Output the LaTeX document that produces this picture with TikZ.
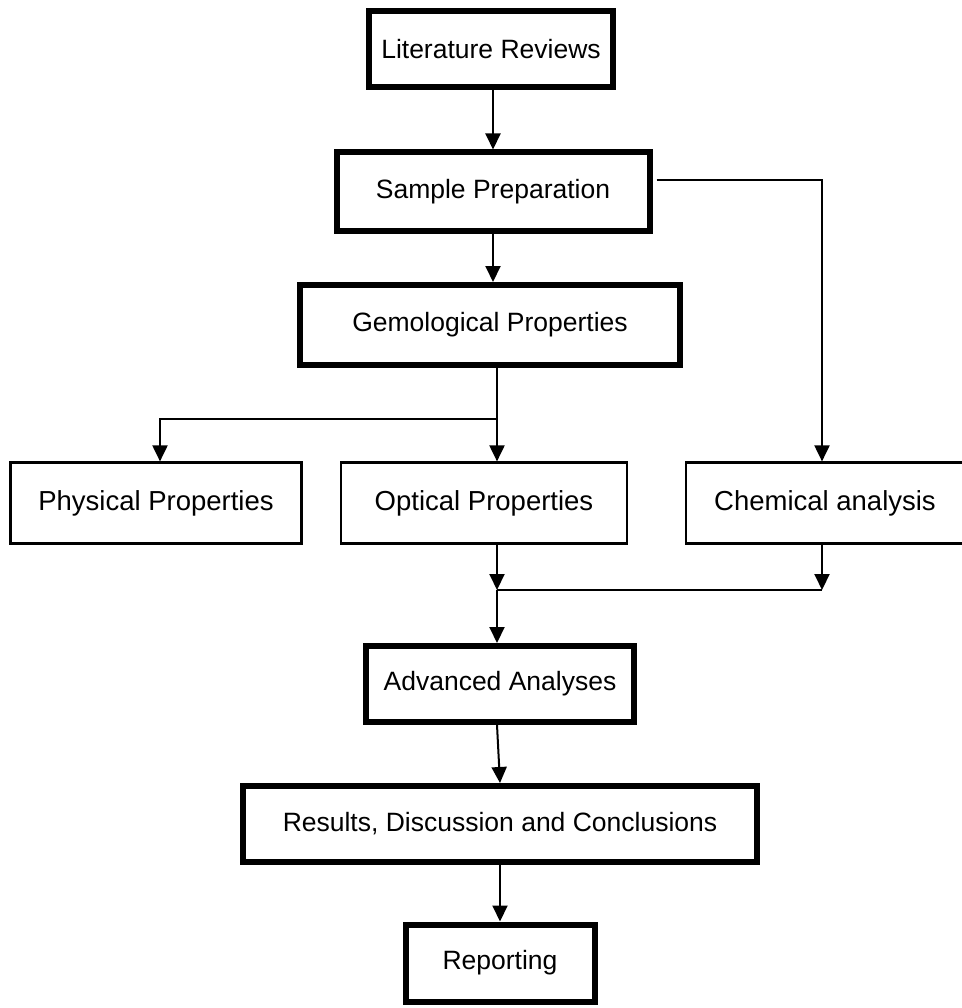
\documentclass[tikz,border=0pt]{standalone}
\usepackage{fontspec}
\setmainfont{Liberation Sans}
\usetikzlibrary{positioning,arrows.meta}
\tikzset{
  stage/.style={rectangle, fill=white, draw=black, line width=6pt, inner sep=0pt, font=\fontsize{26.5}{30}\selectfont},
  test/.style={rectangle, fill=white, draw=black, line width=2.2pt, inner sep=0pt, font=\fontsize{27.5}{31}\selectfont},
  arr/.style={draw=black, line width=2pt, -{Triangle[length=16pt,width=15pt]}},
  ln/.style={draw=black, line width=1.3pt}
}

\begin{document}
\begin{tikzpicture}[x=1pt, y=-1pt]
  \useasboundingbox (0,0) rectangle (961,1008);
  \node[stage, minimum width=244pt, minimum height=76pt] (lit) at (491,49) {Literature Reviews};
  \node[stage, minimum width=313pt, minimum height=79pt] (sp) at (493,192) {Sample Preparation};
  \node[stage, minimum width=380pt, minimum height=80pt] (gp) at (490,325) {Gemological Properties};
  \node[test, minimum width=291pt, minimum height=81pt] (phy) at (156,503) {Physical Properties};
  \node[test, minimum width=286pt, minimum height=81pt] (opt) at (484,503) {Optical Properties};
  \node[test, minimum width=278pt, minimum height=81pt] (chem) at (825,503) {Chemical analysis};
  \node[stage, minimum width=268pt, minimum height=76pt] (aa) at (500,684) {Advanced Analyses};
  \node[stage, minimum width=514pt, minimum height=76pt] (res) at (500,824) {Results, Discussion and Conclusions};
  \node[stage, minimum width=189pt, minimum height=77pt] (rep) at (500,963) {Reporting};
  \coordinate (split) at (497,419);
  \coordinate (merge) at (497,590);
  \coordinate (cdrop) at (822,590);
  \draw[arr] (lit.south -| 493,0) -- (sp.north -| 493,0);
  \draw[arr] (sp.south -| 493,0) -- (gp.north -| 493,0);
  \draw[arr] ([xshift=4pt,yshift=12pt]sp.east) -| (chem.north -| cdrop);
  \draw[ln] (gp.south -| split) -- (split);
  \draw[arr] (split) -- (split |- opt.north);
  \draw[arr] (split) -| (phy.north -| 160,0);
  \draw[arr] (opt.south -| merge) -- (merge);
  \draw[arr] (chem.south -| cdrop) -- (cdrop);
  \draw[ln] (merge) -- (cdrop);
  \draw[arr] (merge) -- (aa.north -| merge);
  \draw[arr] (aa.south -| merge) -- (res.north);
  \draw[arr] (res.south) -- (rep.north);
\end{tikzpicture}
\end{document}
